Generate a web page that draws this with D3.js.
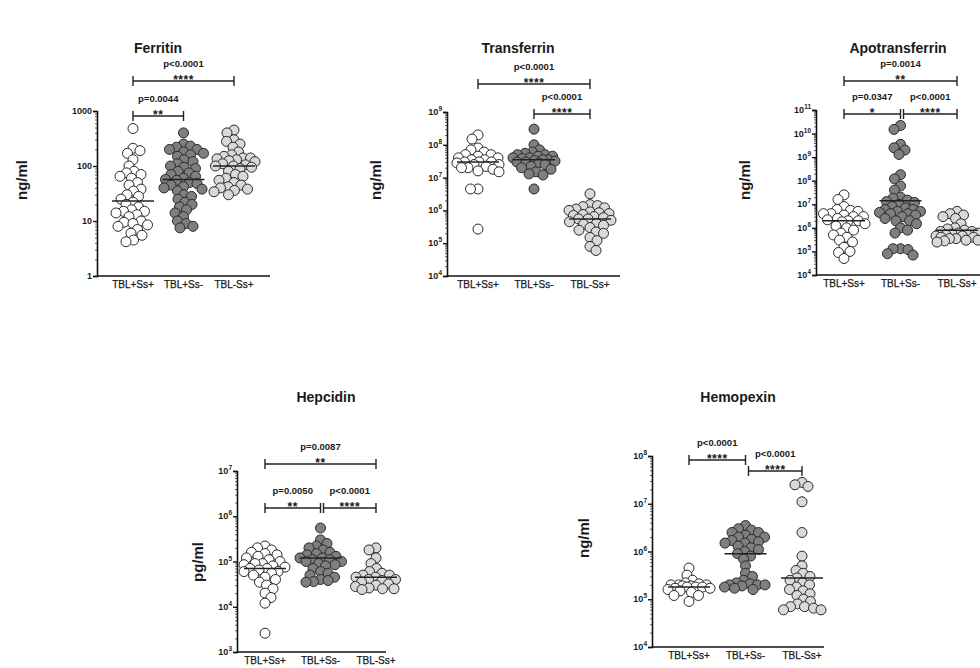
<!DOCTYPE html>
<html>
<head>
<meta charset="utf-8">
<script src="https://cdn.jsdelivr.net/npm/d3@7"></script>
<style>
  body { margin: 0; background: #fff; }
  text { font-family: "Liberation Sans", Arial, sans-serif; fill: #1a1a1a; }
</style>
</head>
<body>
<svg id="chart" width="980" height="668"></svg>
<script>
// Groups shared by every panel.
const groups = ["TBL+Ss+", "TBL+Ss-", "TBL-Ss+"];

// Ferritin (ng/ml), one array per group.
const ferritinValues = [
    [480, 210, 190, 170, 130, 100, 80, 75, 70, 65, 60, 50, 45, 38, 35, 30, 28, 25, 22, 20,
     18, 16, 15, 15, 14, 13, 12, 10, 9.5, 9, 8.5, 8, 7, 6, 5.5, 4.5, 4.2],
    [400, 250, 230, 220, 200, 200, 180, 170, 160, 150, 130, 120, 110, 100, 95, 90, 80, 75, 70, 65,
     60, 57, 55, 50, 48, 45, 42, 40, 38, 35, 30, 28, 25, 22, 20, 18, 16, 14, 12, 10, 9, 8, 7.5],
    [450, 400, 300, 280, 250, 220, 180, 160, 150, 140, 140, 135, 130, 125, 120, 110, 105, 100, 100,
     95, 90, 80, 70, 65, 60, 55, 50, 45, 42, 40, 38, 36, 34, 30]
];
const ferritinMedians = [23, 57, 100];
const ferritinStats = [
    {from: 0, to: 1, p: "p=0.0044", stars: "**", level: 0},
    {from: 0, to: 2, p: "p<0.0001", stars: "****", level: 1}
];

// Transferrin (ng/ml).
const transferrinValues = [
    [2e8, 1.5e8, 8e7, 7e7, 6e7, 5e7, 5e7, 4.5e7, 4e7, 4e7, 3.5e7, 3.5e7, 3e7, 3e7, 3e7, 2.8e7,
     2.5e7, 2.5e7, 2.2e7, 2e7, 2e7, 1.8e7, 1.6e7, 1.5e7, 4.5e6, 4.5e6, 2.7e5],
    [3e8, 1e8, 7e7, 6e7, 5.5e7, 5e7, 5e7, 4.5e7, 4.5e7, 4e7, 4e7, 3.8e7, 3.5e7, 3.5e7, 3.3e7,
     3.2e7, 3e7, 3e7, 2.8e7, 2.5e7, 2.2e7, 2e7, 1.8e7, 1.5e7, 1.3e7, 1.2e7, 4.5e6],
    [3.2e6, 1.5e6, 1.4e6, 1.3e6, 1.2e6, 1.1e6, 1e6, 9e5, 8.5e5, 8e5, 7.5e5, 7e5, 6.5e5, 6e5, 5.5e5,
     5.5e5, 5e5, 4.5e5, 4e5, 3.8e5, 3.5e5, 3e5, 2.5e5, 2.2e5, 2e5, 1.5e5, 1.2e5, 8e4, 6e4]
];
const transferrinMedians = [3e7, 3.5e7, 5.5e5];
const transferrinStats = [
    {from: 0, to: 2, p: "p<0.0001", stars: "****", level: 1},
    {from: 1, to: 2, p: "p<0.0001", stars: "****", level: 0}
];

// Apotransferrin (ng/ml).
const apoValues = [
    [2.5e7, 1.6e7, 8e6, 6e6, 5.5e6, 5e6, 4e6, 4e6, 3.5e6, 3e6, 3e6, 2.5e6, 2.2e6, 2e6, 2e6, 1.8e6,
     1.5e6, 1.2e6, 1e6, 8e5, 6e5, 5e5, 4e5, 3e5, 2.5e5, 1.5e5, 1e5, 9e4, 5e4],
    [2.2e10, 1.5e10, 3.5e9, 2.5e9, 2e9, 1.3e9, 1.8e8, 1.2e8, 6e7, 4e7, 2e7, 1.8e7, 1.5e7, 1.3e7,
     1.2e7, 1e7, 8e6, 7e6, 6e6, 6e6, 5e6, 5e6, 4.5e6, 4e6, 4e6, 3.5e6, 3e6, 2.5e6, 2e6, 2e6,
     1.5e6, 1e6, 8e5, 6e5, 1.3e5, 1.3e5, 1.2e5, 8e4, 7e4],
    [5e6, 4e6, 3.5e6, 3e6, 2.5e6, 1.5e6, 1e6, 9e5, 8e5, 7e5, 7e5, 6e5, 6e5, 5.5e5, 5e5, 5e5, 4.5e5,
     4.5e5, 4e5, 4e5, 3.5e5, 3.5e5, 3e5, 3e5, 2.8e5, 2.5e5]
];
const apoMedians = [2e6, 1.4e7, 8e5];
const apoStats = [
    {from: 0, to: 1, p: "p=0.0347", stars: "*", level: 0},
    {from: 1, to: 2, p: "p<0.0001", stars: "****", level: 0},
    {from: 0, to: 2, p: "p=0.0014", stars: "**", level: 1}
];

// Hepcidin (pg/ml).
const hepcidinValues = [
    [2.2e5, 2e5, 1.8e5, 1.6e5, 1.5e5, 1.4e5, 1.3e5, 1.2e5, 1.1e5, 1e5, 9e4, 9e4, 8.5e4, 8e4, 7.5e4,
     7e4, 7e4, 6.5e4, 6e4, 6e4, 5.5e4, 5e4, 4.5e4, 4e4, 3.5e4, 3e4, 2.5e4, 2e4, 1.6e4, 1.2e4, 2.6e3],
    [5.5e5, 3e5, 2.5e5, 2.2e5, 2e5, 1.8e5, 1.6e5, 1.5e5, 1.4e5, 1.3e5, 1.2e5, 1.2e5, 1.1e5, 1.1e5,
     1e5, 1e5, 9e4, 8.5e4, 8e4, 7e4, 6e4, 5.5e4, 5e4, 4.5e4, 4e4, 3.8e4, 3.6e4, 3.5e4],
    [2e5, 1.8e5, 1.2e5, 9e4, 7e4, 6e4, 5.5e4, 5e4, 5e4, 4.5e4, 4.5e4, 4e4, 4e4, 3.8e4, 3.5e4, 3.2e4,
     3e4, 2.8e4, 2.6e4, 2.5e4, 2.5e4, 2.4e4]
];
const hepcidinMedians = [7e4, 1.2e5, 4.5e4];
const hepcidinStats = [
    {from: 0, to: 1, p: "p=0.0050", stars: "**", level: 0},
    {from: 1, to: 2, p: "p<0.0001", stars: "****", level: 0},
    {from: 0, to: 2, p: "p=0.0087", stars: "**", level: 1}
];

// Hemopexin (ng/ml).
const hemopexinValues = [
    [4.5e5, 3.2e5, 2.5e5, 2.2e5, 2.1e5, 2e5, 2e5, 2e5, 1.9e5, 1.9e5, 1.8e5, 1.8e5, 1.8e5, 1.7e5,
     1.7e5, 1.6e5, 1.5e5, 1.4e5, 1.2e5, 1.2e5, 9e4],
    [3.5e6, 3e6, 2.8e6, 2.5e6, 2.5e6, 2.2e6, 2e6, 2e6, 1.8e6, 1.7e6, 1.6e6, 1.5e6, 1.5e6, 1.3e6,
     1.2e6, 1.1e6, 1e6, 9e5, 8e5, 7e5, 5e5, 3.5e5, 3e5, 2.5e5, 2.2e5, 2.1e5, 2e5, 2e5, 2e5, 1.9e5,
     1.8e5, 1.7e5, 1.6e5],
    [2.8e7, 2.5e7, 2.3e7, 1.1e7, 2.5e6, 8e5, 5e5, 4e5, 3.5e5, 3e5, 2.8e5, 2.5e5, 2.2e5, 2e5, 1.8e5,
     1.6e5, 1.5e5, 1.3e5, 1.2e5, 1e5, 9e4, 8e4, 7e4, 7e4, 6.5e4, 6e4, 6e4]
];
const hemopexinMedians = [1.8e5, 9e5, 2.8e5];
const hemopexinStats = [
    {from: 0, to: 1, p: "p<0.0001", stars: "****", level: 1},
    {from: 1, to: 2, p: "p<0.0001", stars: "****", level: 0}
];

// Fill colour per group.
const groupFills = ["#ffffff", "#7f7f7f", "#d9d9d9"];

// Layout of each panel (pixel positions).
const panels = [
    {title: "Ferritin", unit: "ng/ml", values: ferritinValues, medians: ferritinMedians,
     stats: ferritinStats, domain: [1, 1000], plain: true,
     axisX: 97, axisEnd: 270, top: 111, bottom: 276, cats: [133, 234],
     titleX: 158, titleY: 53, labelX: 27, labelY: 180, levels: [116, 81]},
    {title: "Transferrin", unit: "ng/ml", values: transferrinValues, medians: transferrinMedians,
     stats: transferrinStats, domain: [1e4, 1e9],
     axisX: 447, axisEnd: 620, top: 112, bottom: 276, cats: [478, 590],
     titleX: 518, titleY: 53, labelX: 381, labelY: 180, levels: [114, 84]},
    {title: "Apotransferrin", unit: "ng/ml", values: apoValues, medians: apoMedians,
     stats: apoStats, domain: [1e4, 1e11],
     axisX: 816, axisEnd: 990, top: 110, bottom: 275, cats: [844, 957],
     titleX: 898, titleY: 53, labelX: 750, labelY: 180, levels: [114, 81]},
    {title: "Hepcidin", unit: "pg/ml", values: hepcidinValues, medians: hepcidinMedians,
     stats: hepcidinStats, domain: [1e3, 1e7],
     axisX: 237, axisEnd: 386, top: 471, bottom: 652, cats: [265, 376],
     titleX: 326, titleY: 402, labelX: 203, labelY: 562, levels: [508, 464]},
    {title: "Hemopexin", unit: "ng/ml", values: hemopexinValues, medians: hemopexinMedians,
     stats: hemopexinStats, domain: [1e4, 1e8],
     axisX: 652, axisEnd: 824, top: 456, bottom: 647, cats: [689, 802],
     titleX: 738, titleY: 402, labelX: 589, labelY: 538, levels: [471, 460]}
];

const svg = d3.select("#chart");
const radius = 5;

panels.forEach(drawPanel);

function drawPanel(cfg) {
    /*
    Draws one scatter panel: axes, dots, median bars and significance brackets.
    */

    let g = svg.append("g");

    let y = d3.scaleLog().domain(cfg.domain).range([cfg.bottom, cfg.top]);
    let x = d3.scalePoint().domain(groups).range(cfg.cats);

    // Title and unit label.
    g.append("text")
        .attr("x", cfg.titleX)
        .attr("y", cfg.titleY)
        .attr("text-anchor", "middle")
        .attr("font-size", 14)
        .attr("font-weight", "bold")
        .text(cfg.title);

    g.append("text")
        .attr("transform", "translate(" + cfg.labelX + "," + cfg.labelY + ") rotate(-90)")
        .attr("text-anchor", "middle")
        .attr("font-size", 15)
        .attr("font-weight", "bold")
        .text(cfg.unit);

    // Y axis with major and minor log ticks.
    let lo = Math.round(Math.log10(cfg.domain[0]));
    let hi = Math.round(Math.log10(cfg.domain[1]));
    let majors = d3.range(lo, hi + 1).map(e => Math.pow(10, e));
    let minors = [];
    d3.range(lo, hi).forEach(function(e) {
        for (let m = 2; m < 10; m++) minors.push(m * Math.pow(10, e));
    });

    let yAxis = d3.axisLeft(y)
        .tickValues(majors)
        .tickSize(4)
        .tickFormat("");
    let ya = g.append("g")
        .attr("transform", "translate(" + cfg.axisX + ",0)")
        .call(yAxis);
    ya.select(".domain").attr("stroke", "#111").attr("stroke-width", 1.6);
    ya.selectAll(".tick line").attr("stroke", "#111").attr("stroke-width", 1.4);

    g.append("g")
        .attr("transform", "translate(" + cfg.axisX + ",0)")
        .call(d3.axisLeft(y).tickValues(minors).tickSize(2).tickFormat(""))
        .call(s => s.select(".domain").remove())
        .selectAll(".tick line").attr("stroke", "#333").attr("stroke-width", 0.8);

    // Tick labels: plain numbers or 10 with a raised exponent.
    majors.forEach(function(v, i) {
        let t = g.append("text")
            .attr("x", cfg.axisX - 5)
            .attr("y", y(v) + 3)
            .attr("text-anchor", "end")
            .attr("font-size", 9)
            .attr("font-weight", "bold");
        if (cfg.plain) {
            t.text(d3.format("d")(v));
        } else {
            t.append("tspan").text("10");
            t.append("tspan")
                .attr("dy", -4)
                .attr("font-size", 6.5)
                .text(String(lo + i));
        }
    });

    // X axis line and category labels.
    g.append("line")
        .attr("x1", cfg.axisX)
        .attr("x2", cfg.axisEnd)
        .attr("y1", cfg.bottom)
        .attr("y2", cfg.bottom)
        .attr("stroke", "#111")
        .attr("stroke-width", 1.6);

    groups.forEach(function(name) {
        g.append("text")
            .attr("x", x(name))
            .attr("y", cfg.bottom + 12)
            .attr("text-anchor", "middle")
            .attr("font-size", 10)
            .attr("stroke", "#1a1a1a")
            .attr("stroke-width", 0.25)
            .text(name);
    });

    // Dots, placed as a small swarm around each category.
    cfg.values.forEach(function(vals, gi) {
        let pts = swarm(vals, y, x(groups[gi]));
        g.append("g").selectAll("circle")
            .data(pts)
            .join("circle")
            .attr("cx", d => d.x)
            .attr("cy", d => d.y)
            .attr("r", radius)
            .attr("fill", groupFills[gi])
            .attr("stroke", "#2a2a2a")
            .attr("stroke-width", 1);
    });

    // Median bars on top of the dots.
    cfg.medians.forEach(function(m, gi) {
        g.append("line")
            .attr("x1", x(groups[gi]) - 21)
            .attr("x2", x(groups[gi]) + 21)
            .attr("y1", y(m))
            .attr("y2", y(m))
            .attr("stroke", "#222")
            .attr("stroke-width", 1.5);
    });

    // Significance brackets.
    cfg.stats.forEach(function(s) {
        let by = cfg.levels[s.level];
        let shared = cfg.stats.some(o => o !== s && o.to === s.from);
        let x1 = x(groups[s.from]) + (shared ? 3 : 0);
        let x2 = x(groups[s.to]);
        let bg = g.append("g")
            .attr("stroke", "#222")
            .attr("stroke-width", 1.4);
        bg.append("line").attr("x1", x1).attr("x2", x2).attr("y1", by).attr("y2", by);
        bg.append("line").attr("x1", x1).attr("x2", x1).attr("y1", by - 5).attr("y2", by + 5);
        bg.append("line").attr("x1", x2).attr("x2", x2).attr("y1", by - 5).attr("y2", by + 5);

        let mid = (x1 + x2) / 2;
        g.append("text")
            .attr("x", mid)
            .attr("y", by - 14)
            .attr("text-anchor", "middle")
            .attr("font-size", 9.5)
            .attr("font-weight", "bold")
            .text(s.p);
        g.append("text")
            .attr("x", mid)
            .attr("y", by + 2.5)
            .attr("text-anchor", "middle")
            .attr("font-size", 12)
            .attr("font-weight", "bold")
            .attr("letter-spacing", 0.5)
            .text(s.stars);
    });
}

function swarm(vals, y, cx) {
    /*
    Places dots of one group around 'cx' so that they overlap only a little.
    */

    let pts = vals.map(v => ({v: v, y: y(v)})).sort((a, b) => a.y - b.y);
    let placed = [];
    let minD = radius * 1.45;
    let maxOff = radius * 4.2;

    pts.forEach(function(p, i) {
        let best = 0;
        let bestScore = -1;
        let sides = (i % 2 === 0) ? [1, -1] : [-1, 1];
        search:
        for (let k = 0; k <= maxOff; k += 0.5) {
            for (let s of (k === 0 ? [1] : sides)) {
                let off = k * s;
                let nearest = Infinity;
                placed.forEach(function(q) {
                    let d = Math.hypot(q.off - off, q.y - p.y);
                    if (d < nearest) nearest = d;
                });
                if (nearest >= minD) {
                    best = off;
                    break search;
                }
                if (nearest > bestScore) {
                    bestScore = nearest;
                    best = off;
                }
            }
        }
        p.off = best;
        placed.push(p);
    });

    return pts.map(p => ({x: cx + p.off, y: p.y}));
}
</script>
</body>
</html>
